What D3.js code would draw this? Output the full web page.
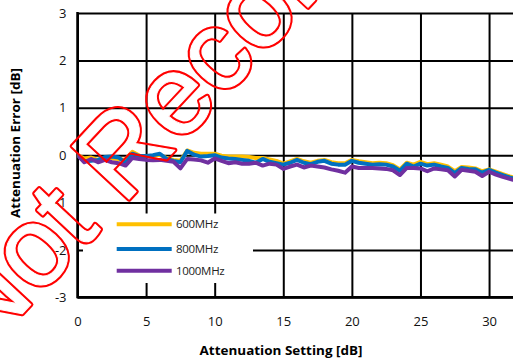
<!DOCTYPE html>
<html>
<head>
<meta charset="utf-8">
<script src="https://cdn.jsdelivr.net/npm/d3@7/dist/d3.min.js"></script>
<style>
  body { margin: 0; background: #fff; }
  svg { display: block; }
</style>
</head>
<body>
<div id="chart"></div>
<script>
// attenuation setting [dB]
var xSteps = [0, 0.5, 1, 1.5, 2, 2.5, 3, 3.5, 4, 4.5, 5, 5.5, 6, 6.5, 7, 7.5,
  8, 8.5, 9, 9.5, 10, 10.5, 11, 11.5, 12, 12.5, 13, 13.5, 14, 14.5, 15, 15.5,
  16, 16.5, 17, 17.5, 18, 18.5, 19, 19.5, 20, 20.5, 21, 21.5, 22, 22.5, 23, 23.5,
  24, 24.5, 25, 25.5, 26, 26.5, 27, 27.5, 28, 28.5, 29, 29.5, 30, 30.5, 31, 31.5, 31.75];

// attenuation error [dB]
var err600 = [0, -0.07, -0.05, -0.1, -0.06, -0.07, -0.08, -0.1, 0.07, -0.01, -0.02, -0.02, 0.01, -0.06, -0.1, -0.12,
  0.1, 0.05, 0.03, 0.03, 0.03, -0.01, -0.03, -0.03, -0.03, -0.04, -0.06, -0.06, -0.09, -0.12, -0.18, -0.13,
  -0.08, -0.13, -0.16, -0.12, -0.1, -0.15, -0.17, -0.17, -0.1, -0.13, -0.15, -0.17, -0.16, -0.17, -0.21, -0.3,
  -0.16, -0.2, -0.14, -0.19, -0.17, -0.2, -0.24, -0.34, -0.25, -0.26, -0.28, -0.34, -0.3, -0.35, -0.4, -0.45, -0.47];

var err800 = [0, -0.13, -0.12, -0.1, -0.04, -0.03, -0.05, -0.16, 0.03, -0.02, -0.02, 0, 0.03, -0.08, -0.12, -0.15,
  0.09, 0.01, -0.03, -0.02, 0, -0.05, -0.07, -0.08, -0.1, -0.12, -0.16, -0.08, -0.14, -0.17, -0.2, -0.16,
  -0.1, -0.16, -0.19, -0.14, -0.12, -0.18, -0.2, -0.2, -0.12, -0.16, -0.18, -0.2, -0.19, -0.2, -0.24, -0.33,
  -0.18, -0.24, -0.18, -0.22, -0.2, -0.24, -0.27, -0.38, -0.27, -0.29, -0.3, -0.37, -0.31, -0.37, -0.42, -0.47, -0.49];

var err1000 = [0, -0.15, -0.08, -0.15, -0.1, -0.15, -0.17, -0.22, -0.06, -0.08, -0.1, -0.11, -0.1, -0.12, -0.14, -0.28,
  -0.08, -0.09, -0.11, -0.16, -0.07, -0.12, -0.17, -0.15, -0.18, -0.18, -0.16, -0.22, -0.18, -0.2, -0.29, -0.24,
  -0.2, -0.26, -0.22, -0.24, -0.26, -0.3, -0.33, -0.37, -0.24, -0.27, -0.27, -0.27, -0.28, -0.29, -0.32, -0.42,
  -0.27, -0.27, -0.28, -0.34, -0.28, -0.3, -0.32, -0.45, -0.31, -0.33, -0.35, -0.44, -0.35, -0.41, -0.46, -0.5, -0.52];

var seriesNames = ["600MHz", "800MHz", "1000MHz"];
var seriesColors = ["#FFC000", "#0070C0", "#7030A0"];
var xTicks = [0, 5, 10, 15, 20, 25, 30];
var yTicks = [-3, -2, -1, 0, 1, 2, 3];

(function () {
    var width = 513, height = 358;
    var plotLeft = 77.5, plotRight = 516.5, plotTop = 13, plotBottom = 297.3;
    var fontStack = "'Open Sans', 'Liberation Sans', sans-serif";

    var svg = d3.select("#chart").append("svg")
        .attr("xmlns", "http://www.w3.org/2000/svg")
        .attr("width", width)
        .attr("height", height);

    svg.append("rect").attr("width", width).attr("height", height).attr("fill", "#fff");

    var x = d3.scaleLinear().domain([0, 32]).range([plotLeft, plotRight]);
    var y = d3.scaleLinear().domain([-3, 3]).range([plotBottom, plotTop]);

    // grid + axes
    var yAxis = d3.axisLeft(y)
        .tickValues(yTicks)
        .tickSize(-(plotRight - plotLeft))
        .tickPadding(11)
        .tickFormat(function (d) { return String(d); });

    var xAxis = d3.axisBottom(x)
        .tickValues(xTicks)
        .tickSize(-(plotBottom - plotTop))
        .tickPadding(19)
        .tickFormat(function (d) { return String(d); });

    var gy = svg.append("g").attr("transform", "translate(" + plotLeft + ",0)").call(yAxis);
    var gx = svg.append("g").attr("transform", "translate(0," + plotBottom + ")").call(xAxis);

    [gx, gy].forEach(function (g) {
        g.select(".domain").remove();
        g.selectAll(".tick line").attr("stroke", "#000").attr("stroke-width", 2);
        g.selectAll(".tick text")
            .attr("fill", "#111")
            .style("font-family", fontStack)
            .style("font-size", "13px");
    });

    // axis lines
    svg.append("line").attr("x1", plotLeft).attr("x2", plotLeft)
        .attr("y1", plotTop - 1).attr("y2", plotBottom + 1)
        .attr("stroke", "#000").attr("stroke-width", 2.5);
    svg.append("line").attr("x1", plotLeft).attr("x2", plotRight)
        .attr("y1", plotBottom).attr("y2", plotBottom)
        .attr("stroke", "#000").attr("stroke-width", 2.5);

    // data lines
    svg.append("clipPath").attr("id", "plotClip")
        .append("rect").attr("x", plotLeft).attr("y", plotTop)
        .attr("width", plotRight - plotLeft).attr("height", plotBottom - plotTop);

    var allSeries = [err600, err800, err1000];
    var line = d3.line()
        .x(function (d, i) { return x(xSteps[i]); })
        .y(function (d) { return y(d); });

    svg.append("g").attr("clip-path", "url(#plotClip)")
        .selectAll("path")
        .data(allSeries)
        .enter()
        .append("path")
        .attr("d", line)
        .attr("fill", "none")
        .attr("stroke", function (d, i) { return seriesColors[i]; })
        .attr("stroke-width", 4)
        .attr("stroke-linejoin", "round")
        .attr("stroke-linecap", "round");

    // legend
    var legend = svg.append("g");
    legend.append("rect")
        .attr("x", 83).attr("y", 213.5).attr("width", 170).attr("height", 69.5)
        .attr("fill", "#fff");
    var legendY = [224.3, 249, 270.7];
    seriesNames.forEach(function (name, i) {
        legend.append("line")
            .attr("x1", 116.7).attr("x2", 171.7)
            .attr("y1", legendY[i]).attr("y2", legendY[i])
            .attr("stroke", seriesColors[i]).attr("stroke-width", 4);
        legend.append("text")
            .attr("x", 176).attr("y", legendY[i] + 4)
            .attr("fill", "#222")
            .style("font-family", fontStack)
            .style("font-size", "11.5px")
            .style("letter-spacing", "-0.3px")
            .text(name);
    });

    // axis titles
    svg.append("text")
        .attr("x", 281).attr("y", 355)
        .attr("text-anchor", "middle")
        .attr("textLength", 163).attr("lengthAdjust", "spacingAndGlyphs")
        .style("font-family", fontStack)
        .style("font-size", "13px").style("font-weight", "bold")
        .text("Attenuation Setting [dB]");

    svg.append("text")
        .attr("transform", "translate(20,143) rotate(-90)")
        .attr("text-anchor", "middle")
        .attr("textLength", 150).attr("lengthAdjust", "spacingAndGlyphs")
        .style("font-family", fontStack)
        .style("font-size", "13px").style("font-weight", "bold")
        .text("Attenuation Error [dB]");

    // watermark: outlined red lettering
    var defs = svg.append("defs");
    var mask = defs.append("mask").attr("id", "wmMask")
        .attr("maskUnits", "userSpaceOnUse")
        .attr("x", 0).attr("y", 0).attr("width", width).attr("height", height);
    mask.append("rect").attr("width", width).attr("height", height).attr("fill", "#000");
    function wmText(g, col, sw) {
        g.append("text")
            .attr("transform", "translate(-18.5,357.6) rotate(-47)")
            .attr("fill", col).attr("stroke", col).attr("stroke-width", sw)
            .attr("stroke-linejoin", "round")
            .style("font-family", "'Liberation Sans', Arial, sans-serif")
            .style("font-size", "113px")
            .text("Not Recommended");
    }
    wmText(mask, "#fff", 5);
    wmText(mask, "#000", 1);
    svg.append("rect").attr("width", width).attr("height", height)
        .attr("fill", "#FF0000").attr("mask", "url(#wmMask)");
})();
</script>
</body>
</html>
